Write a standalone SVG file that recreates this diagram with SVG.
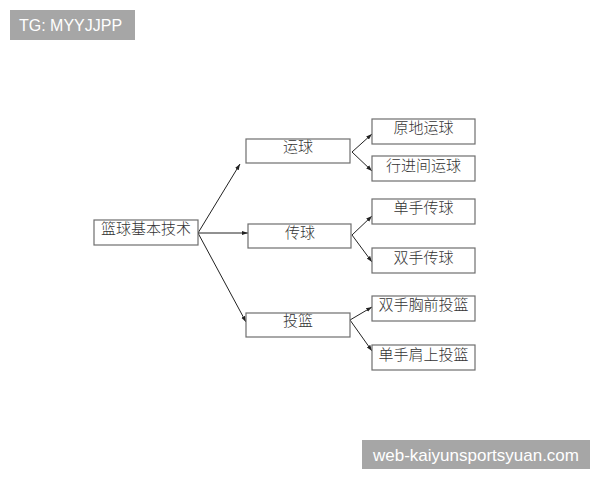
<svg xmlns="http://www.w3.org/2000/svg" width="600" height="480" viewBox="0 0 600 480">
<style>
.box{fill:#fff;stroke:#6e6e6e;stroke-width:1.2}
.t{font-family:"Liberation Serif","Noto Sans CJK SC",serif;font-size:15px;font-weight:300;fill:#333;text-anchor:middle}
.c{stroke:#222;stroke-width:1;fill:none;marker-end:url(#ah)}
.wm{fill:#a6a6a6}
.wt{font-family:"Liberation Sans","Noto Sans",sans-serif;font-size:16px;fill:#fff}
</style>
<defs>
<marker id="ah" viewBox="0 0 10 10" refX="10" refY="5" markerWidth="6" markerHeight="6" orient="auto" markerUnits="userSpaceOnUse">
<path d="M0,1.5 L10,5 L0,8.5 Z" fill="#222"/>
</marker>
</defs>
<rect width="600" height="480" fill="#fff"/>
<g id="wm1"><rect class="wm" x="10" y="10" width="125" height="30"/><text class="wt" x="19" y="31">TG: MYYJJPP</text></g>
<g id="wm2"><rect class="wm" x="362" y="440" width="228" height="29"/><text class="wt" x="373" y="461" style="font-size:17px">web-kaiyunsportsyuan.com</text></g>
<g id="connectors">
<path class="c" d="M198,233 L240,164"/>
<path class="c" d="M198,233 L248,233"/>
<path class="c" d="M198,233 L246,322"/>
<path class="c" d="M352,152 L372,134"/>
<path class="c" d="M352,152 L372,171"/>
<path class="c" d="M352,235 L372,216"/>
<path class="c" d="M352,235 L372,262"/>
<path class="c" d="M350,320 L372,307"/>
<path class="c" d="M350,320 L372,351"/>
</g>
<g id="root"><rect class="box" x="94" y="220" width="104" height="25"/><text class="t" x="146" y="234">篮球基本技术</text></g>
<g id="yunqiu"><rect class="box" x="246" y="139" width="104" height="24"/><text class="t" x="298" y="152">运球</text></g>
<g id="chuanqiu"><rect class="box" x="248" y="224" width="103" height="24"/><text class="t" x="300" y="238">传球</text></g>
<g id="toulan"><rect class="box" x="246" y="313" width="104" height="24"/><text class="t" x="298" y="326">投篮</text></g>
<g id="n1"><rect class="box" x="372" y="119" width="103" height="25"/><text class="t" x="423.5" y="133">原地运球</text></g>
<g id="n2"><rect class="box" x="372" y="156" width="103" height="25"/><text class="t" x="423.5" y="171">行进间运球</text></g>
<g id="n3"><rect class="box" x="372" y="199" width="103" height="25"/><text class="t" x="423.5" y="213">单手传球</text></g>
<g id="n4"><rect class="box" x="372" y="248" width="103" height="25"/><text class="t" x="423.5" y="263">双手传球</text></g>
<g id="n5"><rect class="box" x="372" y="296" width="103" height="25"/><text class="t" x="423.5" y="310">双手胸前投篮</text></g>
<g id="n6"><rect class="box" x="372" y="345" width="103" height="25"/><text class="t" x="423.5" y="360">单手肩上投篮</text></g>
</svg>
